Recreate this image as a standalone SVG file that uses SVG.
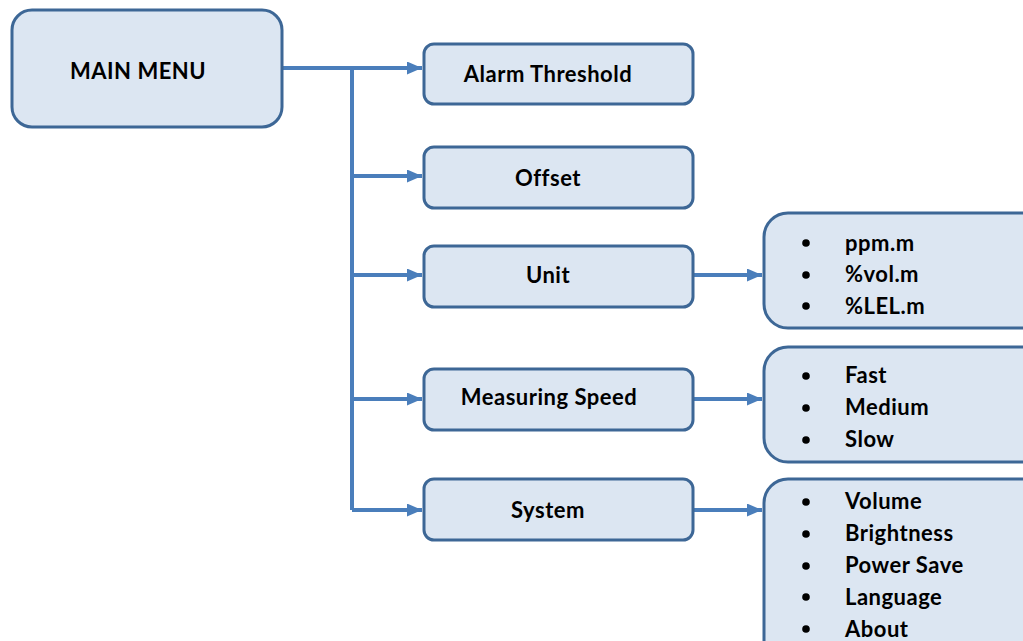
<svg xmlns="http://www.w3.org/2000/svg" width="1023" height="641" viewBox="0 0 1023 641">
  <defs>
    <marker id="arrow" viewBox="0 0 15 13" refX="15" refY="6.5" markerWidth="15" markerHeight="13" markerUnits="userSpaceOnUse" orient="auto">
      <path d="M0,0 L15,6.5 L0,13 Z" fill="#4a7ebb"/>
    </marker>
  </defs>
  <style>
    .box { fill: #dce6f2; stroke: #3d6796; stroke-width: 3; }
    .label { font-family: Lato, "Liberation Sans", sans-serif; font-weight: bold; font-size: 22px; letter-spacing: 0.5px; fill: #000; }
    .mid { text-anchor: middle; }
    .wire { fill: none; stroke: #4a7ebb; stroke-width: 4; }
    .dot { fill: #000; }
  </style>
  <rect width="1023" height="641" fill="#fff"/>

  <!-- connectors -->
  <g id="connectors">
    <path class="wire" d="M282,68 H352 V510"/>
    <path class="wire" d="M352,68 H422" marker-end="url(#arrow)"/>
    <path class="wire" d="M352,176 H422" marker-end="url(#arrow)"/>
    <path class="wire" d="M352,275 H422" marker-end="url(#arrow)"/>
    <path class="wire" d="M352,399 H422" marker-end="url(#arrow)"/>
    <path class="wire" d="M352,510 H422" marker-end="url(#arrow)"/>
    <path class="wire" d="M693,275 H762" marker-end="url(#arrow)"/>
    <path class="wire" d="M693,399 H762" marker-end="url(#arrow)"/>
    <path class="wire" d="M693,510 H762" marker-end="url(#arrow)"/>
  </g>

  <g id="main-menu">
    <rect class="box" x="12" y="10" width="270" height="117" rx="20"/>
    <text class="label" x="70" y="79">MAIN MENU</text>
  </g>

  <g id="alarm-threshold">
    <rect class="box" x="424" y="44" width="269" height="60" rx="10"/>
    <text class="label mid" x="548" y="82">Alarm Threshold</text>
  </g>

  <g id="offset">
    <rect class="box" x="424" y="147" width="269" height="61" rx="10"/>
    <text class="label mid" x="548" y="186">Offset</text>
  </g>

  <g id="unit">
    <rect class="box" x="424" y="246" width="269" height="61" rx="10"/>
    <text class="label mid" x="548" y="283">Unit</text>
  </g>

  <g id="measuring-speed">
    <rect class="box" x="424" y="369" width="269" height="61" rx="10"/>
    <text class="label mid" x="549" y="405">Measuring Speed</text>
  </g>

  <g id="system">
    <rect class="box" x="424" y="479" width="269" height="61" rx="10"/>
    <text class="label mid" x="548" y="518">System</text>
  </g>

  <g id="unit-options">
    <rect class="box" x="764" y="213" width="290" height="115" rx="24"/>
    <circle class="dot" cx="806" cy="243" r="3.8"/>
    <circle class="dot" cx="806" cy="275" r="3.8"/>
    <circle class="dot" cx="806" cy="306" r="3.8"/>
    <text class="label" x="845" y="251">ppm.m</text>
    <text class="label" x="845" y="282">%vol.m</text>
    <text class="label" x="845" y="314">%LEL.m</text>
  </g>

  <g id="speed-options">
    <rect class="box" x="764" y="347" width="290" height="115" rx="24"/>
    <circle class="dot" cx="806" cy="376" r="3.8"/>
    <circle class="dot" cx="806" cy="408" r="3.8"/>
    <circle class="dot" cx="806" cy="440" r="3.8"/>
    <text class="label" x="845" y="383">Fast</text>
    <text class="label" x="845" y="415">Medium</text>
    <text class="label" x="845" y="447">Slow</text>
  </g>

  <g id="system-options">
    <rect class="box" x="764" y="479" width="290" height="190" rx="24"/>
    <circle class="dot" cx="806" cy="502" r="3.8"/>
    <circle class="dot" cx="806" cy="534" r="3.8"/>
    <circle class="dot" cx="806" cy="566" r="3.8"/>
    <circle class="dot" cx="806" cy="597" r="3.8"/>
    <circle class="dot" cx="806" cy="629" r="3.8"/>
    <text class="label" x="845" y="509">Volume</text>
    <text class="label" x="845" y="541">Brightness</text>
    <text class="label" x="845" y="573">Power Save</text>
    <text class="label" x="845" y="605">Language</text>
    <text class="label" x="845" y="637">About</text>
  </g>
</svg>
